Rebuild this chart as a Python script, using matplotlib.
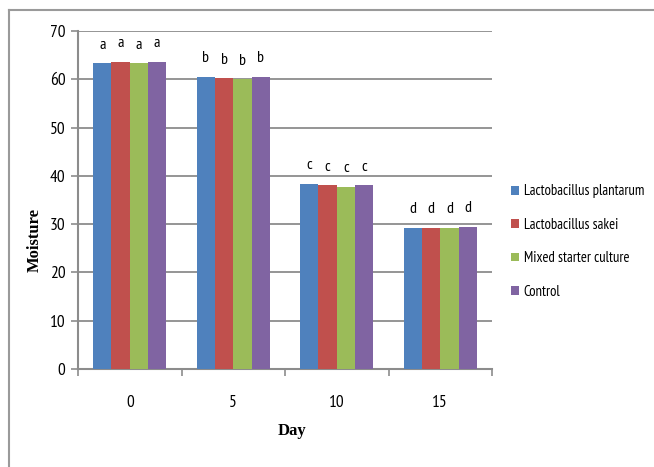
import matplotlib.pyplot as plt
from matplotlib.lines import Line2D
import numpy as np

days = ['0', '5', '10', '15']
treatments = ['Lactobacillus plantarum', 'Lactobacillus sakei',
              'Mixed starter culture', 'Control']
plantarum = [63.3, 60.5, 38.3, 29.2]
sakei = [63.6, 60.2, 38.0, 29.2]
mixed = [63.3, 60.0, 37.7, 29.2]
control = [63.6, 60.5, 38.0, 29.5]
letters = ['a', 'b', 'c', 'd']
colors = ['#4F81BD', '#C0504D', '#9BBB59', '#8064A2']

narrow = ['PT Sans Narrow', 'Roboto Condensed', 'DejaVu Sans']
serif = ['Liberation Serif', 'DejaVu Serif']
plt.rcParams['font.stretch'] = 'condensed'

fig = plt.figure(figsize=(6.54, 4.67), dpi=100)
ax = fig.add_axes([0.1193, 0.2099, 0.633, 0.7238])

# outer frame (top and left edges)
fig.add_artist(Line2D([9 / 654, 1.01], [1 - 10 / 467] * 2, color='#9a9a9a', lw=1.5,
                      transform=fig.transFigure))
fig.add_artist(Line2D([9 / 654] * 2, [-0.01, 1 - 10 / 467], color='#9a9a9a', lw=1.5,
                      transform=fig.transFigure))

x = np.arange(len(days))
width = 0.177
series = [plantarum, sakei, mixed, control]
for i, (vals, name, c) in enumerate(zip(series, treatments, colors)):
    pos = x + (i - 1.5) * width
    ax.bar(pos, vals, width, color=c, label=name, zorder=3)
    for xp, v, let in zip(pos, vals, letters):
        ax.text(xp, v + 2.4, let, ha='center', va='bottom', fontsize=11.5,
                family=narrow)

ax.set_xlim(-0.5, 3.5)
ax.set_ylim(0, 70)
ax.set_yticks(range(0, 71, 10))
ax.yaxis.grid(True, color='#8c8c8c', lw=1.3, zorder=0)
ax.set_axisbelow(True)

ax.set_xticks(x)
ax.set_xticklabels(days)
ax.set_xticks(np.arange(-0.5, 4, 1), minor=True)
ax.tick_params(axis='x', which='major', length=0, pad=19)
ax.tick_params(axis='x', which='minor', length=5, color='#8c8c8c', width=1.2)
ax.tick_params(axis='y', length=5, color='#8c8c8c', width=1.2, pad=4)
for lab in ax.get_xticklabels() + ax.get_yticklabels():
    lab.set_family(narrow)
    lab.set_fontsize(12.5)

for s in ['top', 'right']:
    ax.spines[s].set_visible(False)
for s in ['left', 'bottom']:
    ax.spines[s].set_color('#8c8c8c')
    ax.spines[s].set_linewidth(1.5)

fig.text(35 / 654, 1 - 240 / 467, 'Moisture', rotation=90, ha='center',
         va='center', fontsize=12, fontweight='bold', family=serif)
fig.text(292 / 654, 1 - 431 / 467, 'Day', ha='center', va='center',
         fontsize=12, fontweight='bold', family=serif)

ax.legend(loc='upper left', bbox_to_anchor=(1.015, 0.585), frameon=False,
          prop={'family': narrow, 'size': 10.5}, handlelength=0.55,
          handleheight=0.55, handletextpad=0.3, labelspacing=1.33,
          borderaxespad=0.5)

fig.savefig('out.png', dpi=100)
